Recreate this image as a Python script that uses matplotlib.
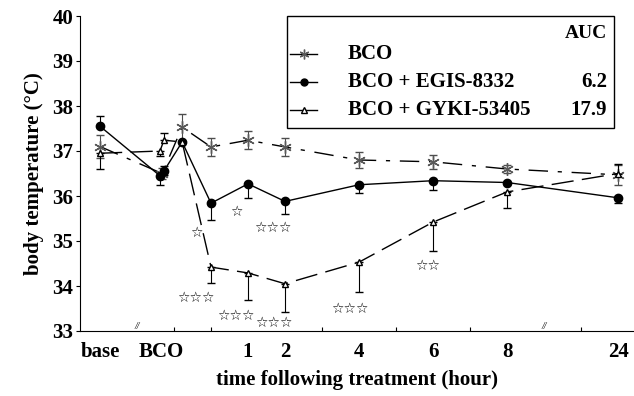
import matplotlib
matplotlib.use("Agg")
import matplotlib.pyplot as plt
from matplotlib.lines import Line2D
from matplotlib.patches import Rectangle

plt.rcParams["font.family"] = ["Liberation Serif", "DejaVu Sans"]
plt.rcParams["font.weight"] = "bold"
plt.rcParams["axes.labelweight"] = "bold"

# time axis: positions on a broken axis (base, around BCO, then hours)
tick_pos = [0, 1.65, 4, 5, 7, 9, 11, 14]
tick_labels = ["base", "BCO", "1", "2", "4", "6", "8", "24"]
minor_pos = [0, 2, 3, 4, 5, 6, 7, 8, 9, 10, 11, 13, 14]
break_pos = [1.0, 12.0]

# BCO alone
bco_x = [0, 1.68, 2.22, 3, 4, 5, 7, 9, 11, 14]
bco_y = [37.1, 36.5, 37.53, 37.09, 37.24, 37.09, 36.8, 36.76, 36.6, 36.47]
bco_err = [0.25, 0.12, 0.3, 0.2, 0.2, 0.2, 0.17, 0.15, 0.08, 0.22]

# BCO + EGIS-8332
egis_x = [0, 1.62, 1.73, 2.22, 3, 4, 5, 7, 9, 11, 14]
egis_y = [37.55, 36.45, 36.56, 37.2, 35.84, 36.27, 35.88, 36.25, 36.34, 36.3, 35.96]
egis_lo = [0, 0.2, 0.1, 0, 0.37, 0.32, 0.27, 0.18, 0.2, 0, 0.12]
egis_hi = [0.22, 0, 0.1, 0, 0, 0, 0, 0, 0, 0, 0]

# BCO + GYKI-53405
gyki_x = [0, 1.62, 1.73, 2.22, 3, 4, 5, 7, 9, 11, 14]
gyki_y = [36.95, 37.0, 37.24, 37.2, 34.42, 34.29, 34.05, 34.53, 35.42, 36.09, 36.5]
gyki_lo = [0.35, 0.1, 0, 0, 0.35, 0.6, 0.62, 0.66, 0.64, 0.36, 0]
gyki_hi = [0, 0, 0.17, 0, 0, 0, 0, 0, 0, 0, 0.2]

auc_labels = ["BCO", "BCO + EGIS-8332", "BCO + GYKI-53405"]
auc_values = ["", "6.2", "17.9"]

# significance marks
sig_x = [3.68, 4.68, 2.6, 2.6, 3.68, 4.7, 6.76, 8.86]
sig_y = [35.64, 35.29, 35.18, 33.73, 33.33, 33.18, 33.49, 34.44]
sig_txt = ["☆", "☆☆☆", "☆", "☆☆☆", "☆☆☆", "☆☆☆", "☆☆☆", "☆☆"]

fig = plt.figure(figsize=(6.34, 3.96), dpi=100)
ax = fig.add_axes([80 / 634, 65 / 396, 554 / 634, 315 / 396])

star = (6, 2, 0)
ax.errorbar(bco_x, bco_y, yerr=bco_err, color="black", ecolor="0.3", lw=1,
            elinewidth=0.8, capsize=3, marker=star, ms=9, mec="0.35",
            dashes=(14, 7, 3, 7), zorder=3)
ax.errorbar(egis_x, egis_y, yerr=[egis_lo, egis_hi], color="black", lw=1,
            elinewidth=0.8, capsize=3, marker="o", ms=6, zorder=4)
ax.errorbar(gyki_x, gyki_y, yerr=[gyki_lo, gyki_hi], color="black", lw=1,
            elinewidth=0.8, capsize=3, marker="^", ms=5, mfc="white",
            dashes=(16, 6), zorder=5)

for x, y, t in zip(sig_x, sig_y, sig_txt):
    ax.text(x, y, t, ha="center", va="center", fontsize=10,
            family="DejaVu Sans", fontweight="bold", color="black")

for b in break_pos:
    ax.text(b, 33.0, "//", ha="center", va="bottom", fontsize=7,
            style="italic", fontweight="normal")

ax.set_xlim(-0.54, 14.43)
ax.set_ylim(33, 40)
ax.spines["top"].set_visible(False)
ax.spines["right"].set_visible(False)
ax.set_xticks(tick_pos)
ax.set_xticklabels(tick_labels)
ax.set_xticks(minor_pos, minor=True)
ax.tick_params(axis="x", which="major", length=0, labelsize=15, pad=8)
ax.tick_params(axis="x", which="minor", length=3, direction="in", width=0.8)
ax.set_yticks(range(33, 41))
ax.tick_params(axis="y", length=3, direction="out", width=0.8, labelsize=15, pad=2)
ax.set_xlabel("time following treatment (hour)", fontsize=15, labelpad=6)
ax.set_ylabel("body temperature (°C)", fontsize=15, labelpad=6)


# legend box drawn in figure pixels
def px(x, y):
    return x / 634, 1 - y / 396


x0, y0 = px(287, 128)
x1, y1 = px(614, 16)
fig.add_artist(Rectangle((x0, y0), x1 - x0, y1 - y0, transform=fig.transFigure,
                         fill=False, lw=1, ec="black"))
fig.text(*px(607, 33), "AUC", ha="right", va="center", fontsize=14)
row_y = [54, 82, 110]
leg_style = [dict(marker=star, ms=7, mec="0.35"),
             dict(marker="o", ms=5),
             dict(marker="^", ms=4, mfc="white")]
for ry, lab, val, st in zip(row_y, auc_labels, auc_values, leg_style):
    lx0, ly = px(290, ry)
    lx1, _ = px(317, ry)
    fig.add_artist(Line2D([lx0, lx1], [ly, ly], transform=fig.transFigure,
                          color="black", lw=1))
    fig.add_artist(Line2D([(lx0 + lx1) / 2], [ly], transform=fig.transFigure,
                          color="black", **st))
    fig.text(*px(348, ry), lab, ha="left", va="center", fontsize=15)
    if val:
        fig.text(*px(607, ry), val, ha="right", va="center", fontsize=15)

fig.savefig("out.png", dpi=100)
